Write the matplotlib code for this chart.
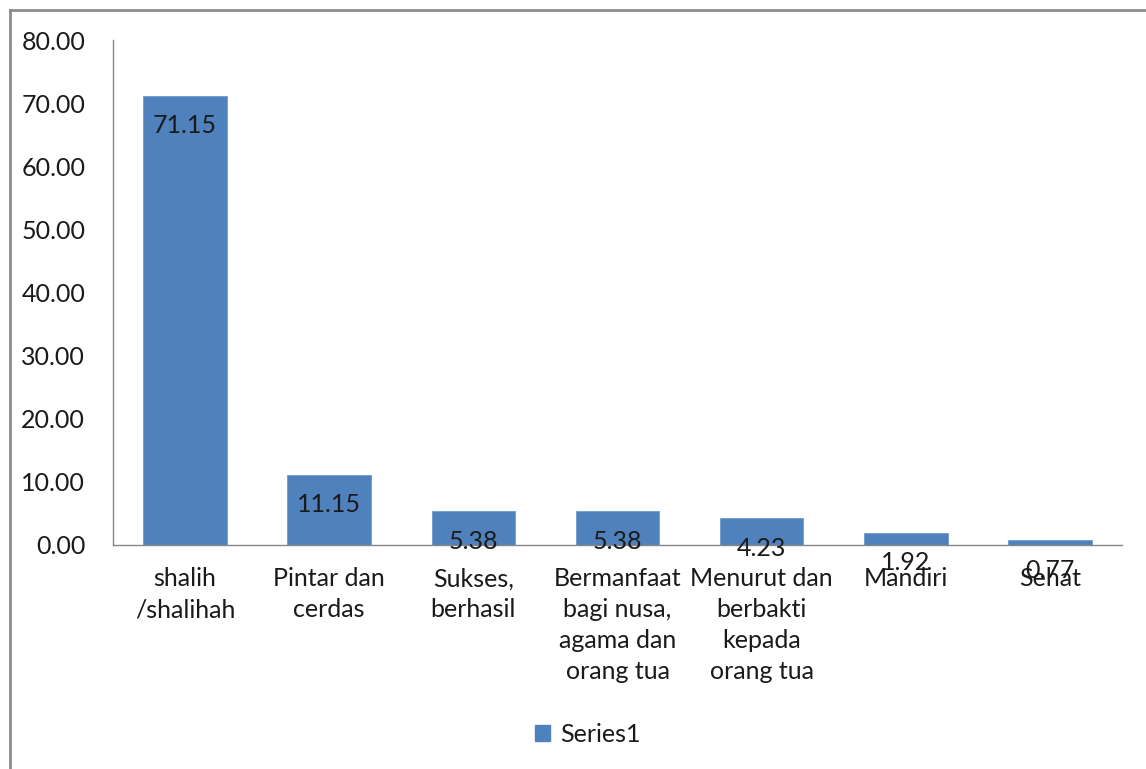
import matplotlib
matplotlib.use("Agg")
import matplotlib.pyplot as plt
from matplotlib.lines import Line2D
from matplotlib.patches import Patch

categories = ["shalih\n/shalihah", "Pintar dan\ncerdas", "Sukses,\nberhasil",
              "Bermanfaat\nbagi nusa,\nagama dan\norang tua",
              "Menurut dan\nberbakti\nkepada\norang tua", "Mandiri", "Sehat"]
values = [71.15, 11.15, 5.38, 5.38, 4.23, 1.92, 0.77]
yticks = [0, 10, 20, 30, 40, 50, 60, 70, 80]
series_name = "Series1"

W, H = 1146, 769
FS = 18
plt.rcParams['font.family'] = ['Lato', 'DejaVu Sans']
fig = plt.figure(figsize=(W / 100, H / 100), dpi=100)
ax = fig.add_axes([113 / W, 1 - 545 / H, (1122 - 113) / W, (545 - 40) / H])

bar_color = "#4F81BD"
x = list(range(len(categories)))
ax.bar(x, values, width=0.58, color=bar_color, edgecolor="#6E9AD0", linewidth=0.6, zorder=2)
for xi, v in zip(x, values):
    ax.annotate(f"{v:.2f}", xy=(xi, v), xytext=(0, -30), textcoords="offset pixels",
                ha="center", va="center", fontsize=FS, color="#1a1a1a", zorder=3)

ax.set_xlim(-0.5, len(categories) - 0.5)
ax.set_ylim(0, 80)
ax.set_yticks(yticks)
ax.set_yticklabels([f"{t:.2f}" for t in yticks])
ax.set_xticks(x)
ax.set_xticklabels(categories, linespacing=1.42)
ax.tick_params(axis="y", length=0, pad=20, labelsize=FS, labelcolor="#1a1a1a")
ax.tick_params(axis="x", length=0, pad=16, labelsize=FS, labelcolor="#1a1a1a")
for s in ["top", "right"]:
    ax.spines[s].set_visible(False)
ax.spines["left"].set_color("#868686")
ax.spines["bottom"].set_color("#868686")
ax.spines["left"].set_linewidth(1.0)
ax.spines["bottom"].set_linewidth(1.0)

handle = Patch(facecolor=bar_color, edgecolor=bar_color)
fig.legend([handle], [series_name], loc="center", bbox_to_anchor=(588 / W, 1 - 734 / H),
           frameon=False, fontsize=FS, handlelength=0.6, handleheight=0.6, handletextpad=0.4,
           labelcolor="#1a1a1a")

# outer border (left and top visible)
fig.add_artist(Line2D([10 / W, 10 / W], [0, 1 - 10 / H], transform=fig.transFigure, color="#8c8c8c", lw=2))
fig.add_artist(Line2D([10 / W, 1], [1 - 10 / H, 1 - 10 / H], transform=fig.transFigure, color="#8c8c8c", lw=2))

fig.savefig("out.png", dpi=100)
